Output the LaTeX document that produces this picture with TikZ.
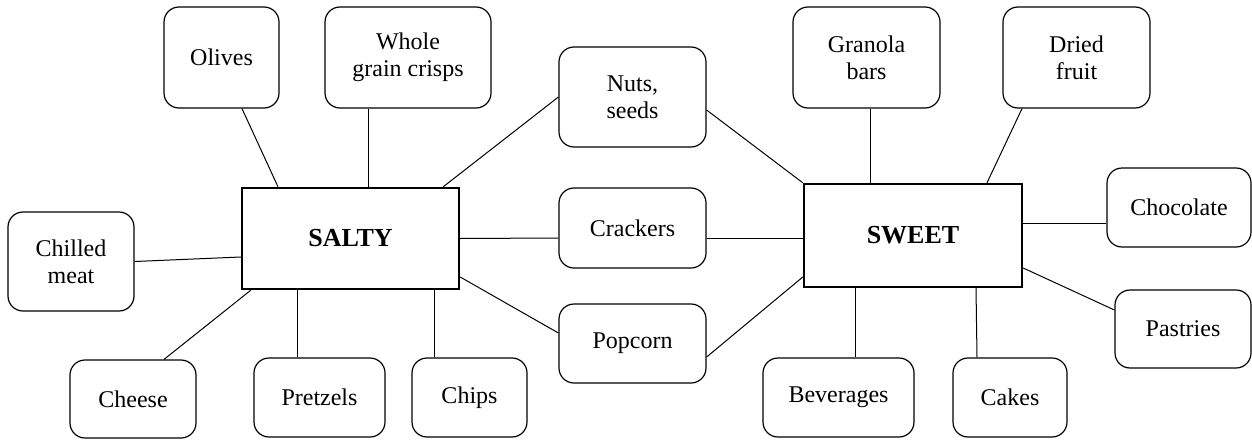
\documentclass[tikz,border=0pt]{standalone}
\usepackage{fontspec}
\setmainfont{Liberation Serif}
\begin{document}
\begin{tikzpicture}[x=1pt,y=-1pt,
  item/.style={draw, rounded corners=15pt, line width=1.2pt, align=center,
    font=\fontsize{24}{27}\selectfont, inner sep=0pt},
  mainbox/.style={draw, line width=2.4pt, inner sep=0pt,
    font=\fontsize{26}{30}\selectfont\bfseries},
  link/.style={line width=1pt}]
\useasboundingbox (0,0) rectangle (1252,439);

% central boxes
\node[mainbox, minimum width=217pt, minimum height=101pt] (salty) at (350.5,238.5) {SALTY};
\node[mainbox, minimum width=218pt, minimum height=103pt] (sweet) at (913,235.5) {SWEET};

% salty side
\node[item, minimum width=115pt, minimum height=101pt] (olives) at (221.5,57.5) {Olives};
\node[item, minimum width=166pt, minimum height=101pt] (whole) at (408,57.5) {Whole\\grain crisps};
\node[item, minimum width=126pt, minimum height=99pt] (chilled) at (71,261.5) {Chilled\\meat};
\node[item, minimum width=126pt, minimum height=78pt] (cheese) at (133,399) {Cheese};
\node[item, minimum width=131pt, minimum height=79pt] (pretzels) at (319.5,397.5) {Pretzels};
\node[item, minimum width=115pt, minimum height=79pt] (chips) at (469.5,397.5) {Chips};

% shared
\node[item, minimum width=147pt, minimum height=100pt] (nuts) at (632.5,97) {Nuts,\\seeds};
\node[item, minimum width=147pt, minimum height=80pt] (crackers) at (632.5,228) {Crackers};
\node[item, minimum width=147pt, minimum height=79pt] (popcorn) at (632.5,343.5) {Popcorn};

% sweet side
\node[item, minimum width=147pt, minimum height=101pt] (granola) at (866.5,57.5) {Granola\\bars};
\node[item, minimum width=147pt, minimum height=101pt] (dried) at (1076.5,57.5) {Dried\\fruit};
\node[item, minimum width=144pt, minimum height=79pt] (chocolate) at (1179,207.5) {Chocolate};
\node[item, minimum width=136pt, minimum height=78pt] (pastries) at (1183,329) {Pastries};
\node[item, minimum width=114pt, minimum height=79pt] (cakes) at (1010,397.5) {Cakes};
\node[item, minimum width=151pt, minimum height=79pt] (beverages) at (838.5,397.5) {Beverages};

% connectors: salty
\draw[link] ([xshift=20.5pt]olives.south) -- ([xshift=-72.5pt]salty.north);
\draw[link] ([xshift=-40pt]whole.south) -- ([xshift=17.5pt]salty.north);
\draw[link] ([xshift=-17pt]salty.north east) -- (nuts.west);
\draw[link] (chilled.east) -- ([yshift=-18.5pt]salty.west);
\draw[link] ([xshift=10pt]salty.south west) -- ([xshift=31pt]cheese.north);
\draw[link] ([xshift=-53.5pt]salty.south) -- ([xshift=-22.5pt]pretzels.north);
\draw[link] ([xshift=83.5pt]salty.south) -- ([xshift=-35.5pt]chips.north);
\draw[link] (salty.east) -- ([yshift=-10pt]crackers.west);
\draw[link] ([yshift=-38.5pt]salty.east) -- ([yshift=10.5pt]popcorn.west);

% connectors: sweet
\draw[link] ([yshift=-13pt]nuts.east) -- (sweet.north west);
\draw[link] ([yshift=-10pt]crackers.east) -- ([yshift=-2.5pt]sweet.west);
\draw[link] ([yshift=-13.5pt]popcorn.east) -- ([yshift=-41.5pt]sweet.west);
\draw[link] ([xshift=3.5pt]granola.south) -- ([xshift=-43pt]sweet.north);
\draw[link] ([xshift=-54.5pt]dried.south) -- ([xshift=74pt]sweet.north);
\draw[link] ([yshift=12.5pt]sweet.east) -- ([yshift=-15.5pt]chocolate.west);
\draw[link] ([yshift=-32.5pt]sweet.east) -- ([yshift=19pt]pastries.west);
\draw[link] ([xshift=63pt]sweet.south) -- ([xshift=-33pt]cakes.north);
\draw[link] ([xshift=-58pt]sweet.south) -- ([xshift=16.5pt]beverages.north);
\end{tikzpicture}
\end{document}
